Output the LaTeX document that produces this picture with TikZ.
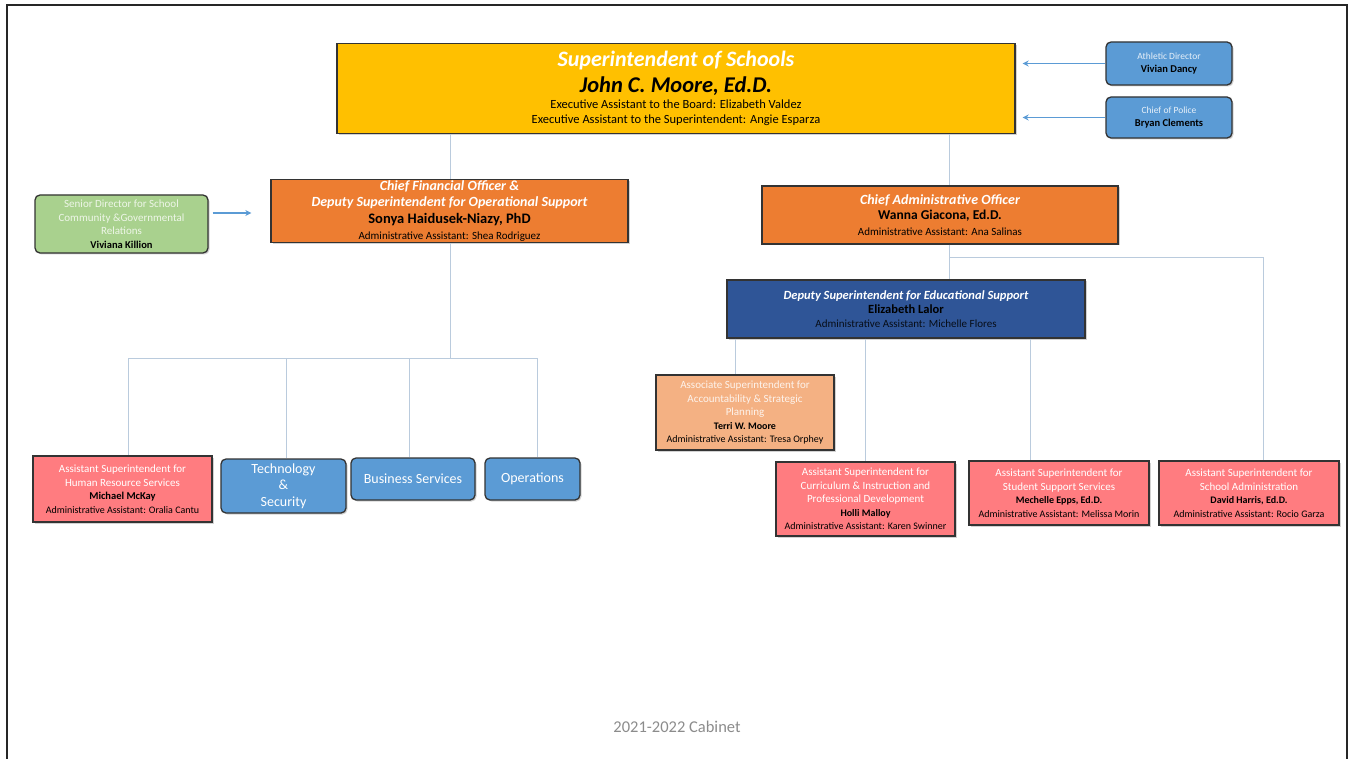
\documentclass[tikz,border=0pt]{standalone}
\usepackage{fontspec}
\setmainfont{Carlito}
\usetikzlibrary{arrows.meta,shadows}
\definecolor{gold}{HTML}{FFC000}
\definecolor{orng}{HTML}{ED7D31}
\definecolor{lorng}{HTML}{F4B183}
\definecolor{dblue}{HTML}{2F5597}
\definecolor{mblue}{HTML}{5B9BD5}
\definecolor{grn}{HTML}{A9D18E}
\definecolor{pnk}{HTML}{FF7C80}
\definecolor{conn}{HTML}{BACBDD}
\definecolor{foot}{HTML}{8C8C8C}
\newcommand{\wl}[1]{{\color{white}#1}}
\tikzset{
  box/.style={draw=black!80, line width=1.3pt, align=center, inner sep=1pt,
    drop shadow={shadow xshift=1.5pt, shadow yshift=-1.5pt, opacity=0.35}},
  rbox/.style={box, rounded corners=5pt},
  small/.style={font=\fontsize{10}{13.5}\selectfont},
  link/.style={draw=conn, line width=1pt},
  barrow/.style={draw=mblue, line width=1.2pt, -{Stealth[length=6pt,width=6pt]}},
}
\begin{document}
\begin{tikzpicture}[x=1pt,y=-1pt]
\useasboundingbox (0,0) rectangle (1349,759);
\fill[white] (0,0) rectangle (1349,759);
\draw[line width=1.6pt, black!85] (7,759) -- (7,5) -- (1347,5) -- (1347,759);

% top
\node[box, fill=gold, minimum width=678, minimum height=90, font=\fontsize{12.5}{15}\selectfont] (sup) at (676,88.5)
  {{\fontsize{22}{24}\selectfont\bfseries\itshape\color{white}Superintendent of Schools}\\[5pt]
   {\fontsize{22.5}{24}\selectfont\bfseries\itshape John C. Moore, Ed.D.}\\[1.5pt]
   Executive Assistant to the Board: Elizabeth Valdez\\
   Executive Assistant to the Superintendent: Angie Esparza};
\node[rbox, fill=mblue, minimum width=126, minimum height=43, font=\fontsize{9.5}{13}\selectfont] (ath) at (1169,63.5)
  {{\color{white!85!mblue}Athletic Director}\\{\fontsize{10.5}{13}\selectfont\bfseries Vivian Dancy}};
\node[rbox, fill=mblue, minimum width=126, minimum height=41, font=\fontsize{9.5}{13}\selectfont] (pol) at (1169,117.5)
  {{\color{white!85!mblue}Chief of Police}\\{\fontsize{10.5}{13}\selectfont\bfseries Bryan Clements}};

% second level
\node[box, fill=orng, minimum width=357, minimum height=62, font=\fontsize{11}{16.5}\selectfont] (cfo) at (449.5,211)
  {{\fontsize{14}{15}\selectfont\bfseries\itshape\color{white}Chief Financial Officer \&}\\
   {\fontsize{14}{15}\selectfont\bfseries\itshape\color{white}Deputy Superintendent for Operational Support}\\
   {\fontsize{14.5}{15}\selectfont\bfseries Sonya Haidusek-Niazy, PhD}\\
   Administrative Assistant: Shea Rodriguez};
\node[rbox, fill=grn, minimum width=173, minimum height=58, font=\fontsize{11}{13.5}\selectfont] (grn) at (121.5,224)
  {{\color{white!80!grn}Senior Director for School}\\
   {\color{white!80!grn}Community \&Governmental}\\
   {\color{white!80!grn}Relations}\\\textbf{\fontsize{10.5}{13}\selectfont Viviana Killion}};
\node[box, fill=orng, minimum width=356, minimum height=58, font=\fontsize{11}{15.5}\selectfont] (cao) at (940,215)
  {{\fontsize{14}{15}\selectfont\bfseries\itshape\color{white}Chief Administrative Officer}\\
   {\fontsize{13.5}{15}\selectfont\bfseries Wanna Giacona, Ed.D.}\\
   Administrative Assistant: Ana Salinas};
\node[box, fill=dblue, minimum width=358, minimum height=58, font=\fontsize{11}{14}\selectfont] (dep) at (906,309)
  {{\fontsize{12.5}{14}\selectfont\bfseries\itshape\color{white}Deputy Superintendent for Educational Support}\\
   {\fontsize{12.5}{14}\selectfont\bfseries Elizabeth Lalor}\\
   {\color{black!85!dblue}Administrative Assistant: Michelle Flores}};

% third level
\node[box, fill=lorng, minimum width=178, minimum height=75, small] (aso) at (745,412.5)
  {{\fontsize{11}{13}\selectfont\color{white!85!lorng}Associate Superintendent for}\\
   {\fontsize{11}{13}\selectfont\color{white!85!lorng}Accountability \& Strategic}\\
   {\fontsize{11}{13}\selectfont\color{white!85!lorng}Planning}\\
   \textbf{Terri W. Moore}\\ Administrative Assistant: Tresa Orphey};
\node[box, fill=pnk, minimum width=179, minimum height=66, small] (hr) at (122.5,489)
  {{\fontsize{11}{13}\selectfont\wl{Assistant Superintendent for}}\\
   {\fontsize{11}{13}\selectfont\wl{Human Resource Services}}\\
   {\fontsize{10.5}{13}\selectfont\bfseries Michael McKay}\\ Administrative Assistant: Oralia Cantu};
\node[rbox, fill=mblue, minimum width=125, minimum height=54, font=\fontsize{14}{16.5}\selectfont] (tech) at (283.5,486)
  {\wl{Technology}\\\wl{\&}\\\wl{Security}};
\node[rbox, fill=mblue, minimum width=124, minimum height=42, font=\fontsize{14}{16}\selectfont] (bus) at (413,479)
  {\wl{Business Services}};
\node[rbox, fill=mblue, minimum width=95, minimum height=42, font=\fontsize{14}{16}\selectfont] (ops) at (532.5,479)
  {\wl{Operations}};
\node[box, fill=pnk, minimum width=179, minimum height=74, small] (cur) at (865.5,499)
  {{\fontsize{11}{13}\selectfont\wl{Assistant Superintendent for}}\\
   {\fontsize{11}{13}\selectfont\wl{Curriculum \& Instruction and}}\\
   {\fontsize{11}{13}\selectfont\wl{Professional Development}}\\
   \textbf{Holli Malloy}\\ Administrative Assistant: Karen Swinner};
\node[box, fill=pnk, minimum width=180, minimum height=64, small] (stu) at (1059,493)
  {{\fontsize{11}{13}\selectfont\wl{Assistant Superintendent for}}\\
   {\fontsize{11}{13}\selectfont\wl{Student Support Services}}\\
   \textbf{Mechelle Epps, Ed.D.}\\ Administrative Assistant: Melissa Morin};
\node[box, fill=pnk, minimum width=180, minimum height=64, small] (sch) at (1249,493)
  {{\fontsize{11}{13}\selectfont\wl{Assistant Superintendent for}}\\
   {\fontsize{11}{13}\selectfont\wl{School Administration}}\\
   \textbf{David Harris, Ed.D.}\\ Administrative Assistant: Rocio Garza};

\node[text=foot, font=\fontsize{16.5}{18}\selectfont] (ftr) at (677,727) {2021-2022 Cabinet};

% coordinates for trunk lines
\coordinate (lx) at (450,358);
\coordinate (rx) at (949,258);

% left branch
\draw[link] (lx |- sup.south) -- (lx |- cfo.north);
\draw[link] (lx |- cfo.south) -- (lx);
\draw[link] ([xshift=5.5pt]hr.north |- lx) -- ([xshift=4.5pt]ops.north |- lx);
\draw[link] ([xshift=5.5pt]hr.north |- lx) -- ([xshift=5.5pt]hr.north);
\draw[link] ([xshift=2.5pt]tech.north |- lx) -- ([xshift=2.5pt]tech.north);
\draw[link] ([xshift=-4pt]bus.north |- lx) -- ([xshift=-4pt]bus.north);
\draw[link] ([xshift=4.5pt]ops.north |- lx) -- ([xshift=4.5pt]ops.north);
% right branch
\draw[link] (rx |- sup.south) -- (rx |- cao.north);
\draw[link] (rx |- cao.south) -- (rx |- dep.north);
\draw[link] (rx) -- ([xshift=14pt]sch.north |- rx) -- ([xshift=14pt]sch.north);
\draw[link] ([xshift=-10pt]aso.north |- dep.south) -- ([xshift=-10pt]aso.north);
\draw[link] (cur.north |- dep.south) -- (cur.north);
\draw[link] ([xshift=-29pt]stu.north |- dep.south) -- ([xshift=-29pt]stu.north);
% arrows
\draw[barrow, shorten >=7pt] (ath.west) -- (ath.west -| sup.east);
\draw[barrow, shorten >=7pt] (pol.west) -- (pol.west -| sup.east);
\draw[barrow, shorten <=4pt, shorten >=19pt] (grn.east |- 0,213) -- (cfo.west |- 0,213);
\end{tikzpicture}
\end{document}
